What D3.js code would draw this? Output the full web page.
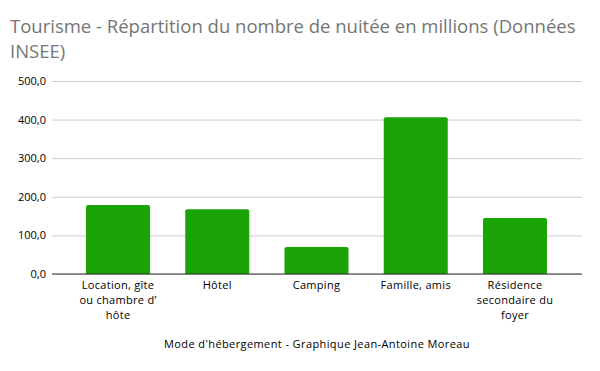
<html>
<head>
  <script src="https://d3js.org/d3.v7.min.js"></script>
  <style>
    body { margin: 0; background: #fff; }
    text { font-family: "Open Sans", "Noto Sans", sans-serif; }
  </style>
</head>
<body>
  <div id="chart"></div>
  <script>
    const categories = [
      ["Location, gîte", "ou chambre d’", "hôte"],
      ["Hôtel"],
      ["Camping"],
      ["Famille, amis"],
      ["Résidence", "secondaire du", "foyer"]
    ];
    const values = [179, 168, 70, 406, 145];
    const yTicks = [0, 100, 200, 300, 400, 500];

    const w = 600, h = 371;
    const svg = d3.select("#chart").append("svg")
      .attr("width", w).attr("height", h);

    const keys = categories.map((d, i) => i);
    const xScale = d3.scaleBand()
      .domain(keys)
      .range([68.4, 564.6])
      .paddingInner(0.355)
      .paddingOuter(0.1775);

    const yScale = d3.scaleLinear()
      .domain([0, 500])
      .range([274, 81]);

    // titre
    svg.append("text")
      .attr("x", 10).attr("y", 33)
      .style("font-size", "18.5px")
      .style("fill", "#757575")
      .text("Tourisme - Répartition du nombre de nuitée en millions (Données");
    svg.append("text")
      .attr("x", 10).attr("y", 58)
      .style("font-size", "18.5px")
      .style("fill", "#757575")
      .text("INSEE)");

    // grille
    const yAxis = d3.axisLeft(yScale)
      .tickValues(yTicks)
      .tickSize(-(582 - 52))
      .tickPadding(6)
      .tickFormat(d => d3.format(".1f")(d).replace(".", ","));

    const gy = svg.append("g")
      .attr("transform", "translate(52,0)")
      .call(yAxis);
    gy.select(".domain").remove();
    gy.selectAll(".tick line").attr("stroke", "#cccccc");
    gy.selectAll(".tick text")
      .style("font-size", "11px")
      .style("fill", "#000")
      .attr("x", -6);

    // barres
    svg.selectAll(".bar")
      .data(values)
      .enter()
      .append("path")
      .attr("class", "bar")
      .attr("fill", "#1aa304")
      .attr("d", (d, i) => {
        const x0 = xScale(i), x1 = x0 + xScale.bandwidth();
        const y0 = yScale(0), y1 = yScale(d), r = 2;
        return `M${x0},${y0}V${y1 + r}Q${x0},${y1} ${x0 + r},${y1}H${x1 - r}Q${x1},${y1} ${x1},${y1 + r}V${y0}Z`;
      });

    // axe x
    svg.append("line")
      .attr("x1", 52).attr("x2", 582)
      .attr("y1", yScale(0)).attr("y2", yScale(0))
      .attr("stroke", "#333");

    const labels = svg.selectAll(".xlabel")
      .data(categories)
      .enter()
      .append("text")
      .attr("class", "xlabel")
      .attr("text-anchor", "middle")
      .style("font-size", "11px")
      .style("fill", "#000")
      .style("letter-spacing", "0.3px")
      .attr("transform", (d, i) => "translate(" + (xScale(i) + xScale.bandwidth() / 2) + ",289)");
    labels.selectAll("tspan")
      .data(d => d)
      .enter()
      .append("tspan")
      .attr("x", 0)
      .attr("y", (d, j) => j * 15)
      .text(d => d);

    svg.append("text")
      .attr("x", 317).attr("y", 348)
      .attr("text-anchor", "middle")
      .style("font-size", "11px")
      .style("fill", "#000")
      .style("letter-spacing", "0.4px")
      .text("Mode d'hébergement  - Graphique Jean-Antoine Moreau");
  </script>
</body>
</html>
